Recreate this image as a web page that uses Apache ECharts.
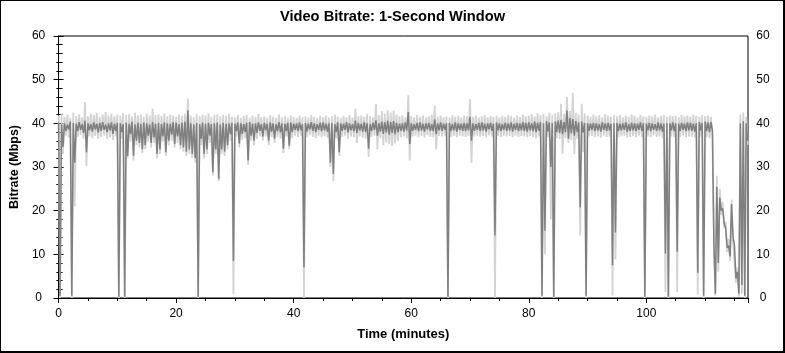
<!DOCTYPE html>
<html>
<head>
<meta charset="utf-8">
<script src="https://cdn.jsdelivr.net/npm/echarts@6/dist/echarts.min.js"></script>
<style>
  html, body { margin: 0; padding: 0; background: #fff; }
  #wrap { position: relative; width: 785px; height: 353px; }
  #chart { position: absolute; left: 0; top: 0; width: 785px; height: 353px; }
  #frame { position: absolute; left: 0; top: 0; width: 785px; height: 353px; box-sizing: border-box;
           border-style: solid; border-color: #000; border-width: 1px 2px 2px 1px; pointer-events: none; }
</style>
</head>
<body>
<div id="wrap"><div id="chart"></div><div id="frame"></div></div>
<script>
// Time bins: each value belongs to a 0.5-minute bin starting at index*binMinutes
const binMinutes = 0.5;
const xTicks = [0, 20, 40, 60, 80, 100];
const yTicks = [0, 10, 20, 30, 40, 50, 60];

// Dark gray series: bin high / bin low (Mbps)
const darkHi = [
  40.2, 39.8, 40.0, 39.7, 40.4, 40.1, 39.9, 40.3, 39.8, 40.6,
  40.0, 39.8, 40.2, 39.9, 40.1, 40.3, 39.7, 40.0, 40.2, 39.9,
  40.1, 40.0, 39.8, 40.2, 39.9, 40.4, 39.8, 40.1, 39.9, 40.2,
  40.0, 39.7, 40.3, 39.9, 40.1, 39.8, 40.2, 40.0, 39.9, 40.3,
  40.1, 39.8, 40.2, 40.4, 43.0, 40.0, 39.7, 40.1, 39.8, 40.2,
  39.9, 40.1, 39.8, 40.0, 40.2, 39.7, 40.1, 39.9, 40.0, 40.1,
  39.9, 40.2, 40.0, 39.8, 40.1, 40.3, 39.9, 40.0, 40.2, 39.8,
  40.1, 39.9, 40.2, 40.0, 39.8, 40.3, 40.0, 39.9, 40.1, 40.2,
  39.9, 40.0, 40.2, 39.8, 40.1, 39.9, 40.3, 40.0, 39.8, 40.1,
  40.2, 39.9, 40.0, 40.1, 39.8, 40.2, 40.0, 39.9, 40.3, 40.0,
  39.8, 40.6, 40.1, 39.9, 40.2, 40.0, 39.8, 40.1, 40.7, 40.0,
  40.4, 40.2, 40.6, 40.3, 40.5, 40.1, 39.9, 40.0, 40.2, 42.6,
  40.0, 39.8, 40.1, 40.2, 39.9, 40.0, 40.1, 39.8, 40.9, 40.0,
  40.2, 39.9, 40.0, 40.1, 39.8, 40.2, 40.0, 39.9, 40.1, 40.0,
  41.5, 40.0, 39.8, 40.1, 40.2, 39.9, 40.0, 40.1, 39.9, 40.2,
  40.0, 39.8, 40.1, 40.0, 40.2, 39.9, 40.1, 40.0, 40.3, 40.1,
  40.2, 40.0, 40.4, 40.1, 40.3, 40.0, 40.5, 40.2, 40.1, 40.4,
  40.6, 40.8, 40.3, 43.0, 41.2, 41.0, 40.5, 40.2, 40.4, 40.1,
  40.0, 39.9, 40.1, 40.0, 39.8, 40.2, 40.0, 40.1, 39.9, 40.0,
  40.1, 39.9, 40.0, 40.2, 39.8, 40.1, 40.0, 39.9, 40.2, 40.0,
  39.9, 40.1, 40.0, 39.8, 40.2, 40.0, 39.9, 40.1, 40.0, 40.2,
  40.0, 39.9, 40.1, 40.0, 40.2, 40.1, 39.9, 40.0, 40.3, 40.1,
  40.4, 40.2, 40.3, 12.0, 25.5, 23.0, 20.5, 16.0, 12.0, 21.5,
  12.0, 6.0, 40.0, 40.5, 40.0
];
const darkLo = [
  0.5, 34.6, 38.3, 38.6, 0.5, 31.0, 38.2, 38.5, 37.8, 33.4,
  38.4, 38.1, 38.6, 37.9, 38.3, 38.5, 38.0, 38.4, 37.6, 38.2,
  0.3, 38.0, 0.3, 32.5, 37.5, 32.6, 36.0, 35.5, 34.1, 35.0,
  37.2, 35.5, 36.8, 33.0, 34.0, 37.0, 33.4, 36.0, 37.4, 35.3,
  37.0, 35.0, 34.5, 33.5, 34.0, 33.0, 32.0, 0.3, 36.5, 33.0,
  34.0, 37.2, 28.8, 34.0, 27.3, 34.0, 33.5, 35.0, 37.5, 8.5,
  38.2, 35.4, 37.6, 38.0, 31.5, 37.2, 36.0, 37.8, 38.3, 37.0,
  38.4, 36.0, 38.1, 36.5, 38.2, 37.9, 34.2, 38.3, 34.9, 38.0,
  38.5, 38.2, 38.4, 7.0, 38.1, 38.6, 38.3, 38.0, 38.5, 38.2,
  38.4, 38.1, 31.0, 28.4, 38.0, 33.4, 38.3, 38.5, 37.9, 38.4,
  38.2, 37.8, 38.4, 38.1, 38.0, 34.2, 38.3, 38.5, 37.2, 38.1,
  37.6, 37.9, 37.4, 37.8, 37.5, 38.0, 38.3, 38.1, 38.4, 35.3,
  38.3, 38.5, 38.2, 38.4, 38.1, 38.6, 38.3, 38.2, 37.5, 38.4,
  38.3, 38.5, 0.3, 38.2, 38.4, 38.1, 38.5, 38.3, 38.2, 38.4,
  36.0, 38.3, 38.5, 38.2, 38.4, 38.1, 38.6, 38.3, 14.3, 38.4,
  38.2, 38.5, 38.3, 38.4, 38.1, 38.5, 38.2, 38.4, 38.3, 38.1,
  38.4, 38.2, 38.0, 38.3, 0.5, 15.4, 38.1, 30.0, 0.3, 38.0,
  37.8, 37.5, 38.0, 36.5, 37.7, 37.2, 38.0, 20.8, 37.9, 0.5,
  38.3, 38.5, 38.2, 38.4, 38.1, 38.5, 38.3, 38.4, 7.5, 15.0,
  38.2, 38.4, 38.5, 38.1, 38.3, 38.4, 38.2, 38.5, 38.3, 0.3,
  38.4, 38.2, 38.5, 38.3, 38.4, 38.1, 10.2, 0.3, 38.4, 38.2,
  10.6, 38.3, 38.5, 38.2, 38.4, 38.3, 38.1, 5.8, 38.4, 0.5,
  38.2, 38.0, 38.3, 1.0, 8.0, 20.0, 17.0, 11.5, 9.5, 14.0,
  4.5, 1.0, 3.0, 0.5, 36.0
];

// Light gray series: bin high / bin low (Mbps)
const lightHi = [
  41.8, 42.3, 41.5, 42.0, 41.2, 42.5, 41.7, 42.1, 41.4, 44.9,
  41.6, 42.2, 41.9, 42.4, 41.5, 42.0, 42.6, 41.8, 42.2, 41.6,
  42.0, 41.7, 42.3, 41.9, 42.1, 41.6, 42.4, 41.8, 42.0, 41.5,
  42.2, 41.8, 43.4, 41.9, 42.1, 41.7, 42.3, 41.6, 42.0, 41.8,
  41.5, 42.0, 41.7, 42.2, 45.7, 41.8, 41.4, 42.1, 41.6, 42.0,
  41.8, 42.3, 41.5, 41.9, 42.1, 41.6, 42.0, 41.7, 42.2, 41.5,
  41.4, 41.9, 41.2, 41.7, 42.0, 41.3, 41.8, 41.5, 42.1, 41.4,
  41.6, 41.3, 41.9, 41.5, 41.2, 42.0, 41.4, 41.7, 41.3, 41.8,
  41.5, 41.2, 41.8, 41.4, 41.6, 41.3, 41.9, 41.5, 41.2, 41.7,
  41.4, 41.8, 41.3, 41.6, 42.0, 41.5, 41.2, 41.7, 41.4, 41.9,
  41.3, 43.4, 41.6, 41.8, 41.5, 42.2, 41.7, 41.4, 44.5, 41.9,
  42.8, 42.2, 43.0, 42.5, 42.9, 42.0, 41.6, 41.9, 41.4, 46.4,
  41.7, 41.4, 41.9, 41.5, 41.8, 41.3, 41.6, 41.9, 44.0, 41.5,
  41.8, 41.4, 41.6, 41.3, 41.9, 41.5, 41.7, 41.4, 41.8, 41.6,
  45.5, 41.5, 41.8, 41.3, 41.6, 41.9, 41.4, 41.7, 41.5, 41.8,
  41.4, 41.7, 41.5, 41.9, 41.6, 41.3, 41.8, 41.5, 42.0, 41.6,
  41.8, 42.1, 41.6, 42.3, 41.9, 42.2, 41.7, 42.4, 42.0, 42.3,
  42.5, 44.5, 42.2, 46.0, 42.8, 47.0, 42.4, 42.0, 44.5, 42.3,
  41.8, 41.5, 42.0, 41.6, 41.9, 41.4, 42.1, 41.7, 41.5, 41.9,
  41.6, 41.9, 41.4, 41.8, 41.5, 42.0, 41.7, 41.4, 41.9, 41.6,
  41.5, 41.8, 41.6, 42.0, 41.4, 41.7, 41.9, 41.5, 41.8, 41.6,
  41.7, 41.4, 41.9, 41.6, 41.8, 41.5, 42.0, 41.7, 41.5, 41.9,
  41.6, 41.8, 41.5, 13.0, 28.0, 25.0, 22.0, 17.5, 13.5, 22.5,
  13.0, 7.0, 42.0, 42.5, 41.5
];
const lightLo = [
  0.0, 33.0, 37.2, 36.8, 0.0, 21.0, 36.9, 37.3, 36.5, 30.3,
  37.0, 36.6, 37.1, 36.4, 36.9, 37.2, 36.5, 36.8, 36.2, 37.0,
  0.0, 36.5, 0.0, 32.0, 35.8, 31.5, 35.0, 34.5, 33.2, 34.0,
  35.8, 34.5, 35.5, 32.0, 33.0, 35.8, 32.5, 35.0, 36.0, 34.5,
  35.5, 34.0, 33.5, 32.5, 33.0, 32.0, 31.0, 0.0, 35.0, 32.0,
  33.0, 35.5, 28.0, 33.0, 26.8, 33.0, 32.5, 34.0, 36.0, 0.9,
  36.8, 34.5, 36.2, 36.6, 30.5, 36.0, 35.0, 36.4, 37.0, 36.0,
  37.0, 35.0, 36.8, 35.5, 36.9, 36.5, 33.2, 37.0, 34.0, 36.6,
  37.2, 36.9, 37.1, 0.0, 36.8, 37.3, 36.9, 36.6, 37.2, 36.8,
  37.0, 36.7, 30.0, 26.8, 36.6, 32.5, 36.9, 37.2, 36.5, 37.0,
  36.8, 35.5, 37.0, 36.7, 36.5, 32.3, 36.9, 37.1, 34.0, 36.6,
  35.0, 35.6, 35.2, 34.8, 35.4, 36.0, 36.8, 37.0, 36.6, 31.5,
  37.0, 37.2, 36.8, 37.1, 36.7, 37.3, 36.9, 36.8, 34.0, 37.1,
  37.0, 37.2, 0.0, 36.9, 37.1, 36.8, 37.2, 37.0, 36.9, 37.1,
  31.0, 37.0, 37.2, 36.9, 37.1, 36.8, 37.3, 37.0, 0.0, 37.1,
  36.9, 37.2, 37.0, 37.1, 36.8, 37.2, 36.9, 37.1, 37.0, 36.8,
  37.1, 36.9, 36.6, 37.0, 0.0, 10.0, 36.8, 18.0, 0.0, 36.6,
  36.4, 33.0, 36.6, 35.5, 36.2, 33.0, 36.5, 14.3, 33.4, 0.0,
  37.0, 37.1, 36.8, 37.0, 36.7, 37.2, 36.9, 37.0, 0.6, 8.9,
  36.8, 37.0, 37.2, 36.7, 36.9, 37.1, 36.8, 37.2, 36.9, 0.0,
  37.0, 36.8, 37.2, 36.9, 37.0, 36.7, 1.4, 0.0, 37.0, 36.8,
  1.4, 36.9, 37.2, 36.8, 37.0, 36.9, 36.7, 0.8, 37.0, 0.0,
  36.8, 36.6, 36.9, 0.5, 6.0, 19.0, 16.0, 10.5, 8.5, 13.0,
  3.5, 0.3, 1.0, 0.0, 35.0
];

// Interleave high and low values of each bin into one zigzag trace
function trace(hi, lo) {
  const n = Math.min(hi.length, lo.length);
  const out = [];
  for (let i = 0; i < n; i++) {
    out.push([i * binMinutes, hi[i]]);
    out.push([i * binMinutes + binMinutes / 2, lo[i]]);
  }
  return out;
}

const FONT = '"Liberation Sans", Arial, sans-serif';
const X_MAX = 117.3;
const black = '#000';

const chart = echarts.init(document.getElementById('chart'), null, { renderer: 'canvas' });

function xAx(extra) {
  return Object.assign({
    type: 'value', min: 0, max: X_MAX, gridIndex: 0,
    axisLine: { show: false }, axisLabel: { show: false },
    splitLine: { show: false }, axisTick: { show: false }
  }, extra);
}
function yAx(extra) {
  return Object.assign({
    type: 'value', min: yTicks[0], max: yTicks[yTicks.length - 1], gridIndex: 0,
    axisLine: { show: false }, axisLabel: { show: false },
    splitLine: { show: false }, axisTick: { show: false }
  }, extra);
}

chart.setOption({
  animation: false,
  backgroundColor: '#fff',
  title: {
    text: 'Video Bitrate: 1-Second Window',
    left: 'center', top: 9, padding: 0,
    textStyle: { fontFamily: FONT, fontSize: 14.67, fontWeight: 'bold', color: black }
  },
  grid: {
    left: 58, top: 36, width: 690, height: 262,
    show: true, borderColor: black, borderWidth: 1, backgroundColor: '#fff'
  },
  xAxis: [
    xAx({
      position: 'bottom', interval: xTicks[1] - xTicks[0],
      axisLine: { show: true, lineStyle: { color: black, width: 1 } },
      axisTick: { show: true, length: 5, lineStyle: { color: black } },
      axisLabel: { show: true, margin: 10, fontFamily: FONT, fontSize: 12, color: black, showMaxLabel: false },
      name: 'Time (minutes)', nameLocation: 'middle', nameGap: 30,
      nameTextStyle: { fontFamily: FONT, fontSize: 13, fontWeight: 'bold', color: black }
    }),
    xAx({ position: 'bottom', interval: 5, axisTick: { show: true, length: 3, lineStyle: { color: black } } }),
    xAx({ position: 'top', interval: 5, axisTick: { show: true, inside: true, length: 3, lineStyle: { color: black } } }),
    xAx({ position: 'top', interval: 20, axisTick: { show: true, inside: true, length: 5, lineStyle: { color: black } } })
  ],
  yAxis: [
    yAx({
      position: 'left', interval: yTicks[1] - yTicks[0],
      axisLine: { show: true, lineStyle: { color: black } },
      axisTick: { show: true, length: 5, lineStyle: { color: black } },
      minorTick: { show: true, splitNumber: 5, length: 2, lineStyle: { color: black } },
      axisLabel: { show: true, align: 'center', margin: 20, fontFamily: FONT, fontSize: 12, color: black },
      name: 'Bitrate (Mbps)', nameLocation: 'middle', nameGap: 36, nameRotate: 90,
      nameTextStyle: { fontFamily: FONT, fontSize: 12.5, fontWeight: 'bold', color: black }
    }),
    yAx({
      position: 'right', interval: yTicks[1] - yTicks[0],
      axisLine: { show: true, lineStyle: { color: black } },
      axisTick: { show: true, length: 5, lineStyle: { color: black } },
      minorTick: { show: true, splitNumber: 5, length: 4, lineStyle: { color: black } },
      axisLabel: { show: true, align: 'center', margin: 15, fontFamily: FONT, fontSize: 12, color: black }
    }),
    yAx({ position: 'left', interval: 2, axisTick: { show: true, inside: true, length: 3, lineStyle: { color: black } } }),
    yAx({ position: 'right', interval: 2, axisTick: { show: true, inside: true, length: 2, lineStyle: { color: black } } })
  ],
  series: [
    {
      name: 'light', type: 'line', xAxisIndex: 0, yAxisIndex: 0,
      data: trace(lightHi, lightLo), showSymbol: false, symbol: 'none',
      sampling: null, silent: true,
      lineStyle: { color: '#d3d3d3', width: 1.8 }, z: 2
    },
    {
      name: 'dark', type: 'line', xAxisIndex: 0, yAxisIndex: 0,
      data: trace(darkHi, darkLo), showSymbol: false, symbol: 'none',
      sampling: null, silent: true,
      lineStyle: { color: '#808080', width: 1.5 }, z: 3
    }
  ]
});
</script>
</body>
</html>
